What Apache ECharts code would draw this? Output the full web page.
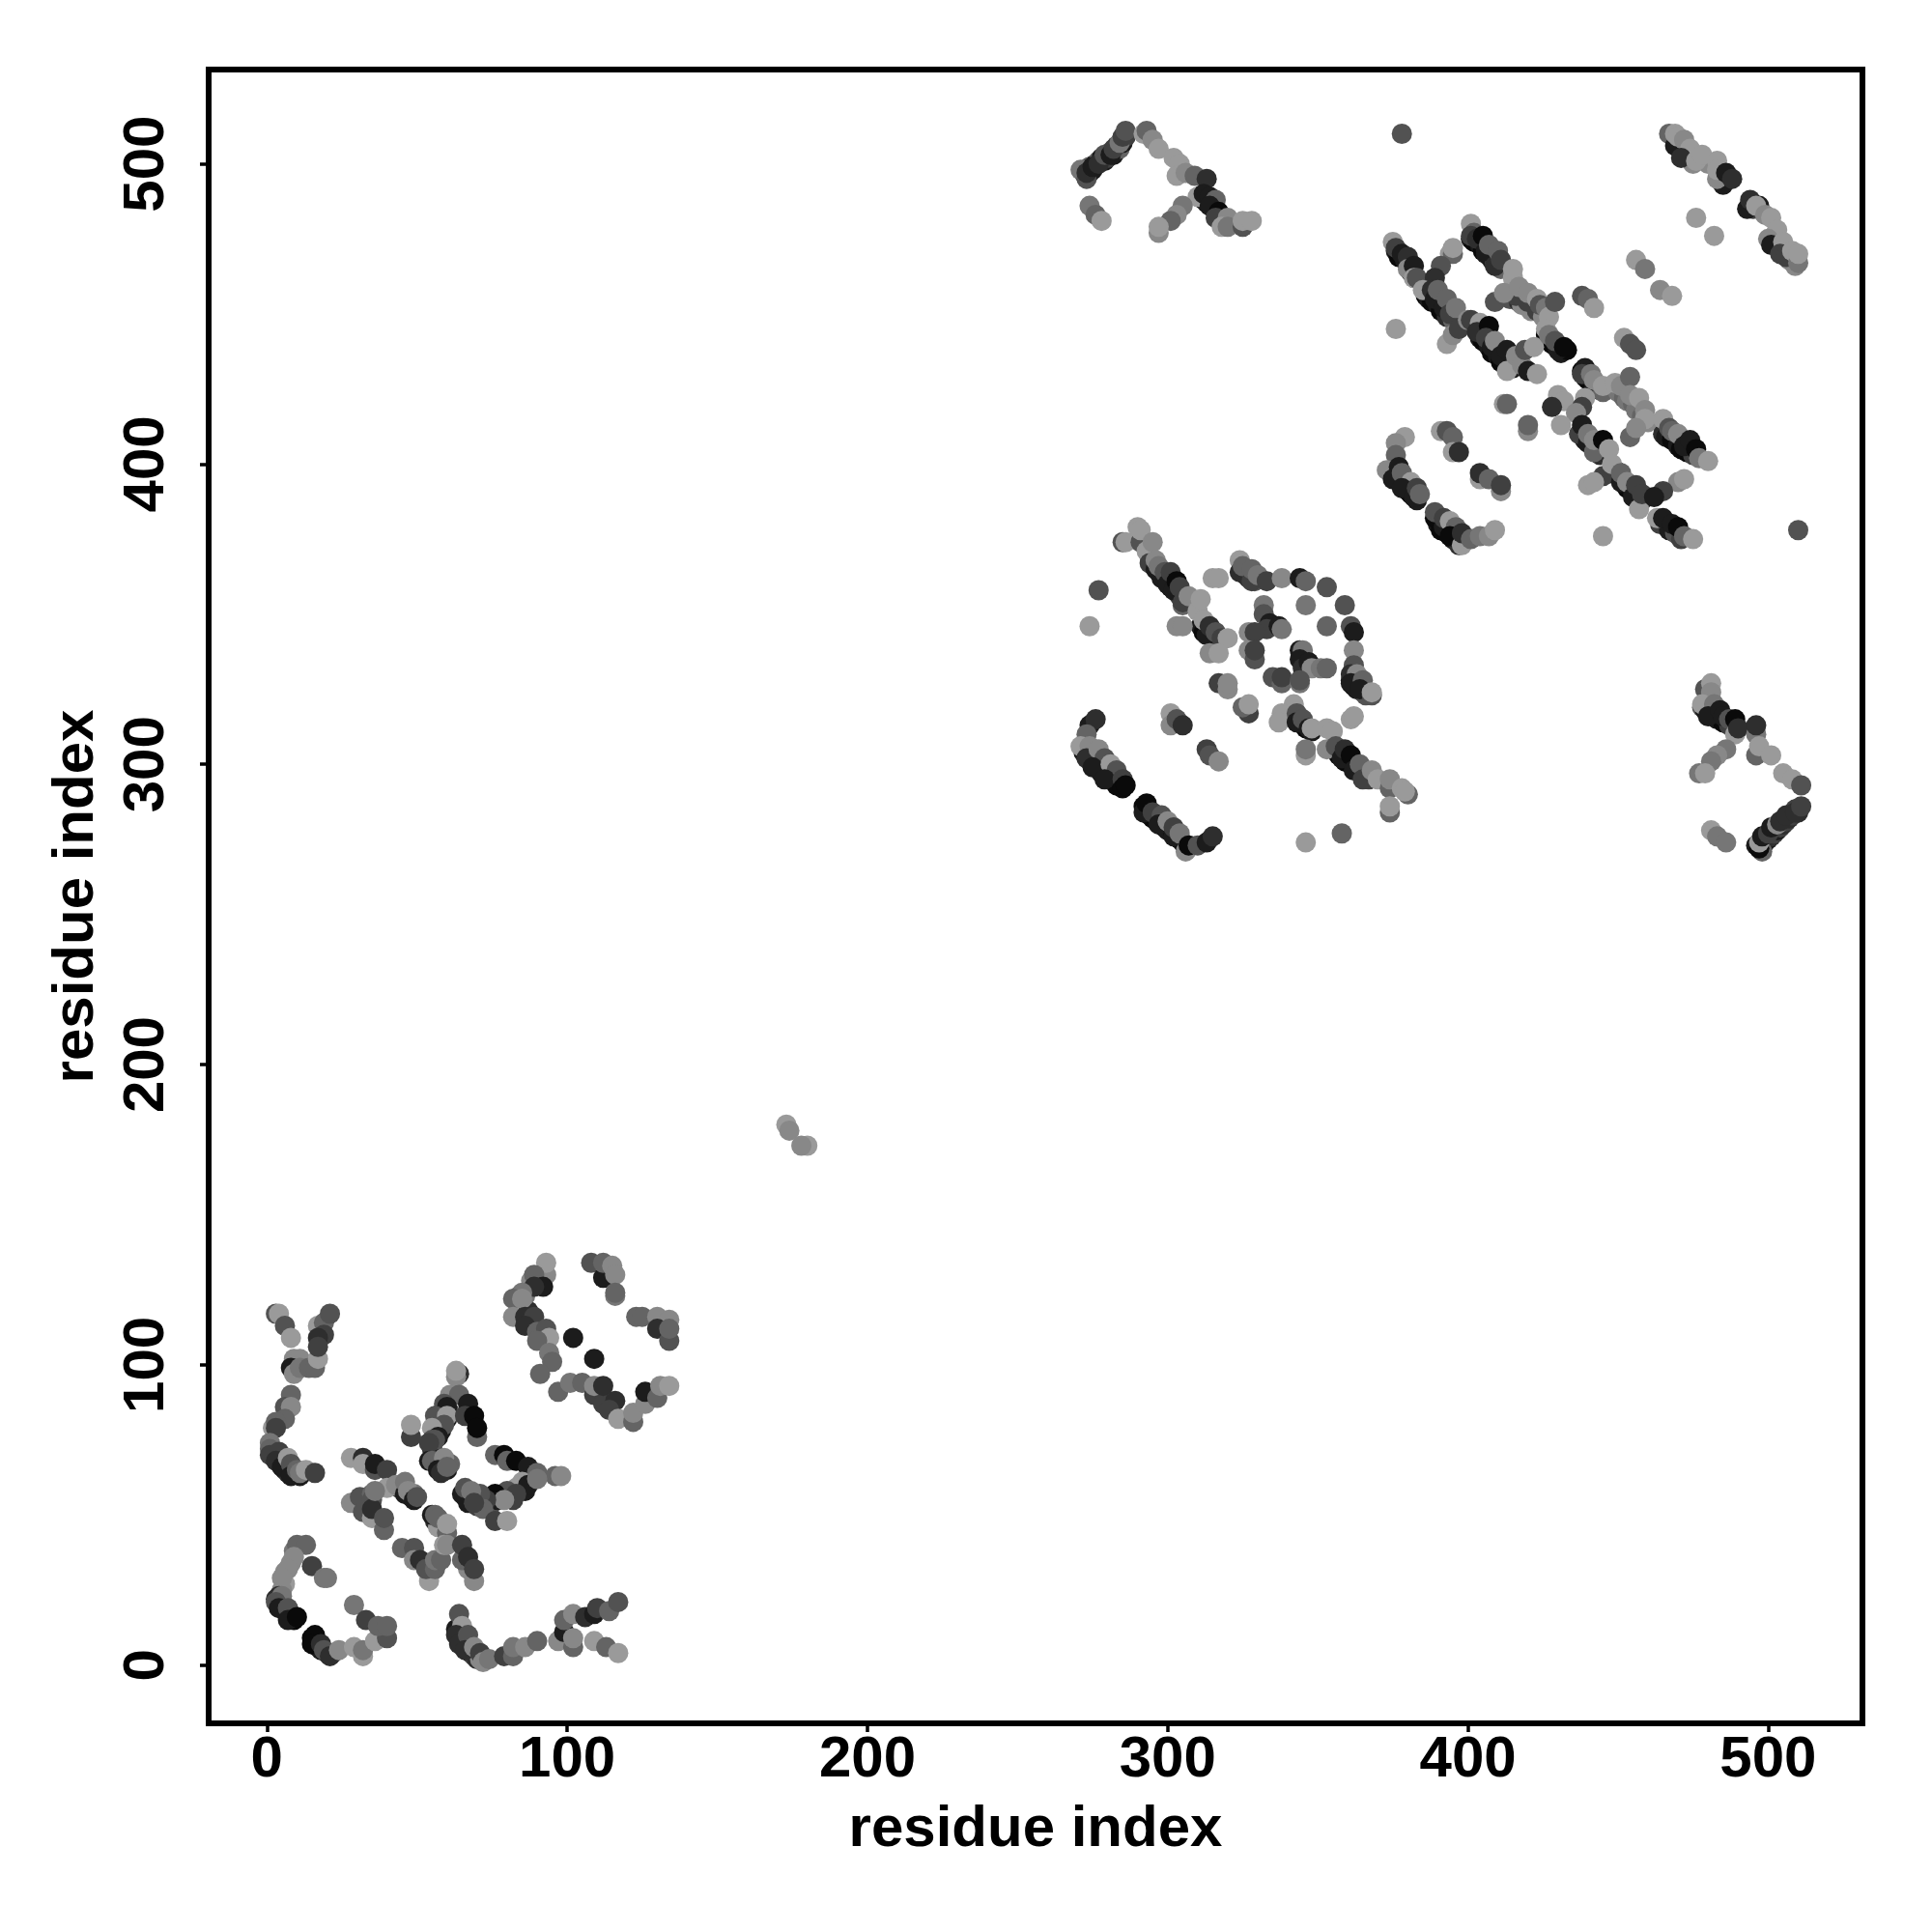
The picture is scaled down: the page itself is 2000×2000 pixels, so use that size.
<!DOCTYPE html>
<html><head><meta charset="utf-8">
<script src="https://cdn.jsdelivr.net/npm/echarts@6/dist/echarts.min.js"></script>
<style>html,body{margin:0;background:#fff}#c{width:2000px;height:2000px}</style></head>
<body><div id="c"></div>
<script>
// each contact: [residue i, residue j, shade level 0 (dark) .. 8 (light)]
const tickValues = [0,100,200,300,400,500];
const axisTitle = 'residue index';
const bandsLow = [[2,71,1],[3,70,1],[4,68,1],[5,68,3],[6,65,1],[7,64,2],[9,65,3],[12,64,3],[3,22,2],[4,21,3],[5,20,1],[6,18,1],[8,17,2],[9,15,0],[15,9,0],[16,8,1],[17,6,3],[18,5,1],[20,4,3],[22,4,4],[6,27,8],[5,25,7],[6,31,7],[8,34,7],[9,38,6],[63,12,1],[64,9,1],[65,7,0],[66,8,3],[67,5,1],[68,4,1],[69,3,3],[70,2,2],[71,2,7],[73,2,7],[55,72,2],[56,70,1],[57,67,0],[58,66,1],[59,66,1],[60,65,1],[61,67,5],[59,85,2],[60,82,1],[61,84,4],[57,79,1],[58,78,1],[57,82,3],[58,84,5],[66,56,1],[67,54,1],[68,56,5],[70,53,3],[70,55,5],[74,52,4],[77,55,1],[82,55,3],[84,58,3],[86,58,1],[83,59,8],[44,59,3],[48,56,1],[49,57,6],[56,48,2],[57,46,8],[87,118,2],[88,115,3],[91,127,2],[88,128,7],[84,123,6],[86,123,6]];
const bandsE = [[272,304,1],[274,302,0],[275,300,1],[277,299,0],[278,297,1],[280,296,1],[282,295,0],[283,293,0],[292,286,0],[294,283,1],[295,282,0],[297,281,1],[299,279,0],[300,278,1],[302,277,0],[304,275,1],[305,274,0],[294,369,6],[296,366,1],[297,364,1],[298,362,1],[300,362,2],[301,359,0],[303,358,1],[304,356,3],[311,346,1],[312,344,0],[314,343,1],[316,342,0],[343,316,0],[345,314,1],[346,312,0],[348,311,1],[356,305,1],[357,303,0],[358,304,2],[359,301,0],[360,302,1],[361,300,0],[363,299,1],[364,298,3],[366,296,1],[367,295,3],[325,365,1],[326,363,1],[327,362,2],[329,361,4],[361,328,1],[362,326,0],[363,325,1],[365,324,3],[366,323,4]];
const bandsF = [[376,471,1],[377,469,0],[379,468,1],[381,466,1],[381,464,0],[386,456,0],[387,455,1],[388,454,0],[390,453,1],[391,451,0],[393,449,2],[395,448,5],[401,475,1],[402,474,0],[404,473,1],[405,471,0],[406,470,1],[408,468,1],[409,467,3],[411,465,5],[413,456,7],[414,455,4],[417,454,2],[418,453,7],[421,451,7],[423,451,3],[425,449,7],[403,445,0],[404,442,1],[405,441,0],[407,439,1],[408,437,0],[410,436,1],[411,434,0],[413,434,1],[415,432,1],[426,443,0],[427,441,1],[428,440,0],[430,439,0],[431,437,1],[433,438,0],[438,431,0],[439,429,1],[440,428,0],[442,427,1],[443,425,1],[445,424,5],[450,424,6],[452,422,5],[453,421,6],[455,420,5],[456,418,6],[458,416,5],[460,414,7],[438,411,0],[439,408,1],[441,407,0],[443,405,1],[444,403,2],[449,398,1],[450,396,0],[452,394,1],[453,392,0],[455,391,1],[456,390,0],[458,388,1],[465,410,2],[466,409,1],[468,408,0],[470,406,1],[471,405,0],[473,404,0],[475,403,3],[464,380,3],[467,378,1],[469,377,4],[471,375,3],[375,397,0],[376,395,1],[378,394,0],[380,391,1],[381,390,0],[383,388,1],[390,380,1],[391,378,0],[393,377,0],[395,375,1],[397,373,2],[398,375,0]];
const bandsTop = [[469,508,7],[471,505,5],[473,503,7],[475,500,7],[480,500,7],[484,497,5],[495,485,3],[502,476,5],[503,474,7],[505,472,7],[507,468,7],[509,466,7],[478,319,4],[479,318,1],[481,317,1],[483,315,1],[485,314,0],[487,313,3],[498,273,1],[499,274,3],[500,275,1],[501,276,2],[502,277,3],[503,278,1],[504,279,3],[505,280,2],[506,281,3],[507,282,2],[508,283,3],[509,285,3],[510,284,2],[272,497,1],[273,498,2],[274,499,5],[274,497,1],[275,498,1],[276,500,1],[277,501,5],[278,502,1],[279,501,1],[280,502,3],[281,504,5],[282,503,1],[283,506,3],[284,505,5],[285,507,1],[286,509,3],[312,488,0],[313,487,1],[315,486,4],[316,485,0],[317,482,1],[318,481,3],[319,480,5]];
const contactsY = [[3,117,4],[4,117,8],[6,113,4],[8,109,8],[9,102,7],[11,102,7],[8,99,1],[9,97,7],[11,99,6],[14,99,5],[16,99,5],[17,102,8],[17,113,8],[19,114,5],[21,117,4],[19,110,3],[17,109,2],[17,106,3],[8,90,5],[6,86,4],[8,86,7],[6,82,5],[2,79,8],[3,81,5],[3,79,3],[1,74,6],[1,72,5],[1,70,3],[4,71,3],[3,68,2],[5,66,1],[7,69,8],[8,67,4],[8,63,1],[11,63,1],[10,65,5],[11,64,6],[13,65,8],[16,64,3]];
const contactsX = [[28,69,8],[32,69,2],[32,67,8],[36,65,4],[36,67,1],[40,65,3],[28,54,7],[31,56,4],[32,51,4],[35,57,5],[35,55,4],[35,49,8],[35,52,2],[39,45,5],[39,49,4],[40,59,8],[36,58,6],[43,60,7],[46,57,1],[46,61,6],[47,58,7],[49,55,1],[50,56,4],[55,50,1],[56,50,5],[57,49,5],[60,44,5],[60,47,8],[45,39,5],[49,39,4],[49,35,7],[51,35,2],[54,28,8],[53,32,4],[56,32,5],[56,35,6],[58,35,5],[59,40,8],[60,40,7],[69,28,7],[67,32,7],[65,35,5],[65,40,3],[67,36,2],[69,32,3]];
const contactsPeak = [[48,76,3],[48,80,8],[64,97,2],[63,96,7],[63,98,8],[61,90,7],[64,90,5],[59,87,4],[60,86,1],[67,87,1],[56,83,4],[60,83,8],[66,83,3],[69,83,0],[59,80,4],[55,79,8],[57,76,1],[70,76,5],[70,79,0],[55,75,4],[56,75,4],[54,74,3],[54,68,1],[55,68,5],[59,69,7],[57,65,1],[58,64,2],[60,66,5]];
const contactsWing = [[76,70,5],[79,70,0],[80,68,5],[83,68,0],[87,66,1],[90,64,5],[96,63,5],[98,63,7],[85,61,8],[87,60,1],[90,62,6],[80,58,4],[83,57,3],[76,57,0],[79,55,7],[73,55,3],[71,57,4],[72,52,5],[65,57,1],[66,59,4],[68,58,6],[69,54,3],[76,48,3],[80,48,8]];
const contactsHook = [[10,40,5],[13,40,5],[9,36,7],[7,32,7],[5,29,7],[15,33,3],[19,29,6],[20,29,6],[4,23,2],[5,23,6],[3,21,4],[4,19,1],[7,19,4],[7,15,1],[10,16,0],[16,10,0],[15,7,0],[18,7,2],[19,5,4],[21,3,2],[24,5,7],[32,3,8],[29,6,8],[32,5,6],[29,20,6],[33,15,3],[36,8,8],[40,9,4],[37,13,5],[40,13,5]];
const contactsFoot = [[64,17,4],[65,13,8],[63,10,2],[64,7,2],[67,10,4],[66,5,2],[69,6,7],[71,4,3],[72,1,7],[74,2,6],[79,3,3],[82,3,5],[82,6,6],[86,6,7],[90,8,5],[97,8,7],[99,11,1],[99,15,5],[102,17,7],[102,6,5],[102,9,7],[106,16,2],[109,17,1],[110,19,3],[114,18,5],[117,21,4],[109,8,8],[113,6,5],[117,4,8]];
const contactsUpper = [[93,130,7],[93,134,8],[89,130,5],[92,126,1],[89,126,2],[85,124,6],[82,122,5],[85,122,7],[82,116,7],[86,116,2],[89,116,3],[86,113,2],[90,111,5],[93,112,4],[94,109,8],[90,108,5],[94,104,6],[95,101,5],[91,97,5],[102,109,1],[109,102,1],[108,134,4],[112,129,1],[112,134,5],[115,133,7],[116,130,7],[116,123,6],[116,124,5],[123,116,5],[125,116,5],[130,116,7],[134,115,7],[130,112,2],[134,108,4],[134,112,5],[97,91,5],[101,94,6],[105,94,5],[109,90,3],[109,93,7],[112,87,3],[112,93,2],[116,88,2],[114,85,3],[117,82,8],[122,81,5],[122,84,7],[126,87,7],[126,91,1],[130,89,5],[131,93,7],[134,93,8]];
const contactsMid = [[173,180,8],[174,178,7],[180,173,8],[178,173,7]];
const contactsE1 = [[285,374,4],[286,374,8],[290,379,8],[291,374,4],[291,378,8],[293,371,8],[294,367,3],[296,365,1],[295,374,7],[296,368,7],[297,366,6],[299,364,4],[300,360,1],[301,364,3],[302,358,1],[303,361,0],[304,359,3],[305,353,5],[305,354,3],[307,356,7],[310,351,8],[311,355,8],[277,358,4],[274,346,8],[303,346,7],[305,346,7],[313,343,1],[312,348,8],[314,346,2],[316,344,4],[318,342,3],[320,342,8],[314,337,7],[317,337,8],[315,362,8],[317,362,8]];
const contactsE2 = [[324,368,8],[324,364,2],[325,366,5],[328,361,3],[328,365,5],[330,363,6],[333,361,3],[338,362,7],[344,362,1],[346,361,5],[353,359,4],[346,353,6],[359,353,4],[353,346,5],[361,346,4],[362,344,1],[362,338,7],[332,353,6],[332,350,4],[334,347,1],[333,345,3],[337,346,1],[338,345,6],[327,344,7],[329,344,3],[327,338,7],[329,335,4],[329,338,3],[344,338,1],[345,338,6],[344,335,1],[345,332,2],[347,334,1],[348,332,7],[351,332,6],[353,332,5],[335,329,4],[338,327,5],[338,329,3],[344,327,6],[344,328,4],[362,333,4],[361,330,2],[363,330,7],[361,327,1],[365,328,5],[364,325,1],[368,323,4],[368,324,8],[317,327,3],[320,325,7],[320,327,7],[327,317,3],[325,319,5],[327,320,8],[301,317,8],[301,313,7],[303,315,4],[305,313,2]];
const contactsE3 = [[274,313,1],[276,315,2],[273,310,5],[271,306,8],[274,306,7],[273,302,2],[277,305,7],[279,302,4],[275,299,1],[281,300,8],[283,298,4],[279,295,1],[285,295,3],[285,292,0],[286,293,0],[292,284,1],[293,287,0],[295,284,3],[298,283,4],[297,280,1],[300,281,7],[302,276,1],[302,279,3],[304,277,6],[306,271,7],[307,273,0],[310,273,4],[313,274,1],[315,276,2],[313,305,3],[314,303,4],[317,301,7]];
const contactsE4 = [[342,320,8],[338,317,8],[337,314,8],[343,317,4],[343,314,1],[345,315,4],[347,312,1],[348,312,8],[353,312,8],[355,311,8],[346,303,8],[346,305,6],[353,305,7],[356,306,4],[358,302,1],[359,305,2],[361,303,0],[362,298,1],[364,300,5],[365,295,3],[368,298,7],[370,295,8],[374,292,5],[374,295,7],[380,290,5],[378,292,8],[379,291,8],[374,284,5],[374,286,8],[361,315,8],[362,316,8],[358,277,5],[346,274,8]];
const contactsF1 = [[375,474,8],[376,472,3],[378,470,1],[380,469,2],[380,465,7],[382,466,1],[382,462,8],[383,462,4],[376,445,8],[394,470,8],[395,470,5],[395,472,8],[391,466,4],[389,462,2],[385,458,8],[388,458,2],[389,455,1],[390,458,5],[392,452,1],[393,455,5],[394,450,3],[396,452,6],[393,440,8],[395,443,7],[397,445,3],[400,448,7]];
const contactsF2 = [[401,480,8],[402,477,5],[401,476,3],[403,475,2],[405,476,0],[406,471,1],[407,473,5],[409,466,2],[410,471,5],[411,468,3],[415,462,8],[415,465,8],[409,454,4],[416,456,3],[412,457,7],[417,459,7],[420,454,3],[420,457,7],[423,455,8],[424,453,4],[426,452,6],[427,449,8],[429,454,4],[438,456,4],[440,455,5],[442,452,8],[456,468,8],[459,465,6],[464,458,7],[468,456,8],[452,442,8],[454,440,4],[456,438,4]];
const contactsF3 = [[401,448,3],[404,447,8],[403,444,2],[407,446,0],[406,442,3],[408,439,1],[409,441,7],[411,436,1],[413,438,1],[413,431,8],[416,436,7],[418,433,7],[419,438,4],[422,439,8],[420,431,1],[423,430,8],[426,445,8],[427,443,6],[430,438,1],[429,441,4],[432,439,0]];
const contactsF4 = [[439,432,1],[438,430,3],[441,430,6],[442,428,7],[445,426,8],[449,427,8],[451,426,7],[454,429,5],[454,423,7],[457,422,8],[459,418,7],[459,415,8],[430,423,8],[432,421,8],[428,419,2],[439,422,8],[438,419,3],[436,417,7],[431,413,8],[412,420,8],[413,420,5],[420,411,7],[420,413,5],[437,410,3],[438,413,1],[440,407,1],[440,410,6],[442,404,5],[442,408,7],[445,408,0],[447,405,8]];
const contactsF5 = [[445,396,3],[440,393,8],[442,394,8],[448,400,8],[451,394,1],[451,397,5],[453,394,7],[455,389,1],[456,393,3],[457,385,8],[458,390,3],[454,409,5],[456,412,7],[465,415,8],[467,412,4],[468,411,5],[470,410,7],[472,406,1],[474,408,1],[476,405,0],[477,402,6],[480,401,8],[470,394,7],[472,395,8],[465,391,3],[462,389,1],[463,382,8],[465,382,1],[468,380,1],[470,379,0],[472,376,5],[475,375,8],[445,376,8],[510,378,4]];
const contactsF6 = [[379,409,8],[376,407,7],[376,403,5],[373,398,7],[377,399,1],[375,395,1],[378,397,5],[381,394,8],[378,392,1],[382,389,1],[383,392,3],[384,390,5],[391,411,8],[393,411,4],[395,409,5],[395,404,8],[397,404,2],[404,395,8],[404,397,2],[407,395,5],[411,391,7],[411,393,3],[389,382,0],[389,384,4],[392,379,1],[392,382,3],[394,381,8],[396,379,5],[394,376,0],[398,373,8],[398,377,2],[401,375,5],[404,376,6],[407,376,7],[409,378,8]];
const contactsG = [[467,510,5],[469,506,1],[469,510,8],[470,509,8],[472,508,7],[474,505,8],[471,502,2],[476,501,8],[478,503,8],[483,501,8],[485,493,1],[483,495,7],[483,498,8],[486,497,1],[488,495,2],[493,485,1],[494,488,2],[497,486,1],[496,486,8],[499,483,7],[501,482,8],[503,478,8],[500,475,7],[501,473,1],[505,474,8],[504,470,3],[506,469,3],[508,471,8],[510,467,6],[510,470,8],[476,482,8],[482,476,8],[378,510,4]];
const contactsH = [[479,325,4],[481,327,8],[481,324,7],[478,320,8],[482,320,6],[480,316,1],[484,318,1],[485,316,1],[487,315,4],[489,310,8],[489,315,0],[490,312,2],[496,310,6],[496,303,5],[496,313,2],[497,306,8],[501,303,8],[505,297,8],[508,295,8],[511,293,4],[486,305,6],[483,303,7],[481,301,6],[477,297,6],[479,297,8],[481,278,8],[483,276,6],[486,274,6],[498,271,5],[496,273,1],[497,272,0],[497,274,8],[498,276,1],[500,277,3],[501,279,1],[503,280,7],[504,281,2],[506,283,2],[509,284,2],[511,286,3]];
const contactsI = [[274,486,6],[276,483,5],[278,481,8],[271,498,6],[273,495,4],[273,497,2],[275,499,1],[277,500,2],[279,503,4],[281,503,1],[282,505,3],[284,507,6],[285,509,3],[286,511,4],[292,510,8],[293,511,5],[295,508,7],[297,505,8],[302,502,8],[304,500,8],[303,496,8],[306,497,7],[309,496,5],[313,495,2],[310,489,8],[312,490,1],[314,489,1],[316,488,5],[314,486,1],[317,484,0],[316,482,3],[320,482,7],[318,479,8],[320,479,6],[325,479,4],[325,481,8],[328,481,8],[305,486,6],[303,483,7],[301,481,5],[297,477,7],[297,479,8]];

const contacts = [bandsLow, bandsE, bandsF, bandsTop, contactsY, contactsX, contactsPeak, contactsWing, contactsHook, contactsFoot, contactsUpper, contactsMid,
  contactsE1, contactsE2, contactsE3, contactsE4, contactsF1, contactsF2, contactsF3, contactsF4, contactsF5, contactsF6,
  contactsG, contactsH, contactsI].flat();

const font = {fontFamily:'Liberation Sans', fontWeight:'bold', fontSize:60, color:'#000'};
const mkAxis = (rot, gap, margin) => ({
  type:'value', min:-19.4, max:531.4, splitLine:{show:false}, axisLine:{show:false, onZero:false},
  axisTick:{show:true, length:9, lineStyle:{color:'#000', width:3.5}, customValues:tickValues},
  axisLabel:Object.assign({rotate:rot, margin:margin, customValues:tickValues, formatter:v=>String(v)}, font),
  name:axisTitle, nameLocation:'middle', nameGap:gap, nameMoveOverlap:false, nameTextStyle:font
});
const chart = echarts.init(document.getElementById('c'), null, {renderer:'canvas'});
chart.setOption({
  animation:false, backgroundColor:'#fff',
  grid:{left:216, top:72, width:1712, height:1712, show:true, borderColor:'#000', borderWidth:6, backgroundColor:'transparent'},
  xAxis:mkAxis(0, 80, 8), yAxis:mkAxis(90, 107, 34),
  series:[{type:'scatter', data:contacts, symbol:'circle', symbolSize:21, clip:false, large:false,
    encode:{x:0,y:1},
    itemStyle:{opacity:1, color:p=>{const g=10+p.value[2]*18;return `rgb(${g},${g},${g})`;}}}]
});
</script></body></html>
